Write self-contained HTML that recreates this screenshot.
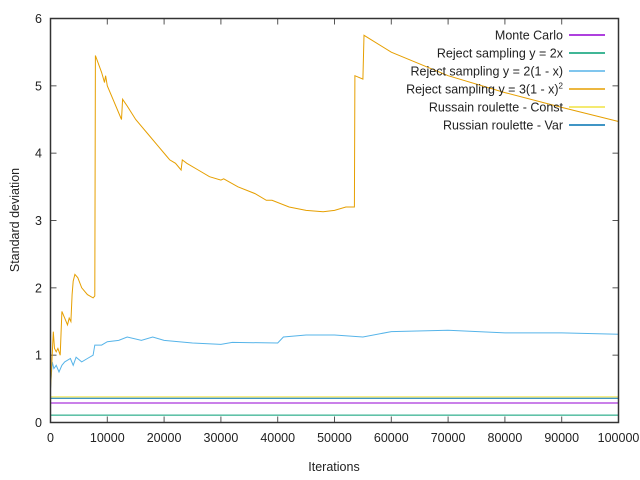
<!DOCTYPE html>
<html><head><meta charset="utf-8"><style>
body{margin:0;background:#fff}
svg{display:block;font-family:"Liberation Sans",sans-serif}
</style></head><body>
<svg id="chart" width="640" height="480" xmlns="http://www.w3.org/2000/svg"></svg>
<script>
const xTicks=[0,10000,20000,30000,40000,50000,60000,70000,80000,90000,100000];
const yTicks=[0,1,2,3,4,5,6];
const seriesNames=["Monte Carlo","Reject sampling y = 2x","Reject sampling y = 2(1 - x)","Reject sampling y = 3(1 - x)","Russain roulette - Const","Russian roulette - Var"];
const seriesColors=["#9400d3","#009e73","#56b4e9","#e69f00","#f0e442","#0072b2"];
const mcX=[0,100000], mcY=[0.29,0.29];
const r2xX=[0,100000], r2xY=[0.11,0.11];
const r21X=[0,300,600,1000,1500,2000,2500,3500,4000,4500,5500,6500,7500,7800,9000,10000,12000,13500,16000,18000,20000,25000,30000,32000,40000,41000,45000,50000,55000,60000,70000,80000,90000,100000];
const r21Y=[0.5,0.9,0.8,0.85,0.75,0.85,0.9,0.95,0.85,0.97,0.9,0.95,1.0,1.15,1.15,1.2,1.22,1.27,1.22,1.27,1.22,1.18,1.16,1.19,1.18,1.27,1.3,1.3,1.27,1.35,1.37,1.33,1.33,1.31];
const r3X=[0,300,500,700,1000,1300,1700,2000,2500,3000,3300,3600,3800,4000,4300,4800,5500,6500,7500,7800,7900,9000,9500,9700,10000,11000,12500,12700,13500,15000,17000,19000,20500,21000,22000,23000,23200,24000,26000,28000,30000,30500,33000,36000,38000,39000,42000,45000,48000,50000,52000,53500,53600,55000,55200,60000,70000,80000,90000,100000];
const r3Y=[0.5,1.0,1.35,1.1,1.05,1.1,1.0,1.65,1.55,1.45,1.55,1.5,1.9,2.1,2.2,2.15,2.0,1.9,1.85,1.88,5.45,5.2,5.05,5.15,5.0,4.8,4.5,4.8,4.7,4.5,4.3,4.1,3.95,3.9,3.85,3.75,3.9,3.85,3.75,3.65,3.6,3.62,3.5,3.4,3.3,3.3,3.2,3.15,3.13,3.15,3.2,3.2,5.15,5.1,5.75,5.5,5.15,4.9,4.68,4.47];
const rcX=[0,100000], rcY=[0.38,0.38];
const rvX=[0,100000], rvY=[0.36,0.36];
const allX=[mcX,r2xX,r21X,r3X,rcX,rvX], allY=[mcY,r2xY,r21Y,r3Y,rcY,rvY];
const L=50.5,R=618.5,T=18.5,B=422.5;
const sx=v=>L+(v-0)/(100000)*(R-L);
const sy=v=>B-(v-0)/6*(B-T);
const NS="http://www.w3.org/2000/svg";
const svg=document.getElementById('chart');
function mk(tag,attrs,parent){const e=document.createElementNS(NS,tag);for(const k in attrs)e.setAttribute(k,attrs[k]);(parent||svg).appendChild(e);return e;}
xTicks.forEach(v=>{
  const x=sx(v);
  const t=mk('line',{x1:x,x2:x,y1:B,y2:B-6,stroke:'#555'});
  
  
  const t2=mk('line',{x1:x,x2:x,y1:T,y2:T+6,stroke:'#555'});
  
  
  const l=mk('text',{x:x,y:442,'text-anchor':'middle','font-size':12.5,fill:'#222'});l.textContent=v;
  
  
});
yTicks.forEach(v=>{
  const y=sy(v);
  const t=mk('line',{x1:L,x2:L+6,y1:y,y2:y,stroke:'#555'});
  
  
  const t2=mk('line',{x1:R,x2:R-6,y1:y,y2:y,stroke:'#555'});
  
  
  const l=mk('text',{x:42,y:y+4.5,'text-anchor':'end','font-size':12.5,fill:'#222'});l.textContent=v;
  
  
});
const order=[5,4,0,1,2,3];
order.forEach(i=>{
  const pts=allX[i].map((x,j)=>sx(x).toFixed(1)+','+sy(allY[i][j]).toFixed(1)).join(' ');
  const p=mk('polyline',{points:pts,fill:'none',stroke:seriesColors[i],'stroke-width':1});
  
  
});
const frame=mk('rect',{x:L,y:T,width:R-L,height:B-T,fill:'none',stroke:'#333','stroke-width':1.5});


seriesNames.forEach((n,i)=>{
  const y=35+i*18;
  const t=mk('text',{x:563,y:y+4.5,'text-anchor':'end','font-size':12.5,fill:'#222'});
  t.textContent=n;
  if(i===3){const s=mk('tspan',{dy:-5,'font-size':8},t);s.textContent='2';}
  
  
  const ln=mk('line',{x1:569,x2:605,y1:y,y2:y,stroke:seriesColors[i],'stroke-width':1.5});
  
  
});
const xt=mk('text',{x:334,y:471,'text-anchor':'middle','font-size':12.5,fill:'#222'});xt.textContent='Iterations';


const yt=mk('text',{x:19,y:220,'text-anchor':'middle','font-size':12.5,fill:'#222',transform:'rotate(-90 19 220)'});yt.textContent='Standard deviation';


</script>
</body></html>
